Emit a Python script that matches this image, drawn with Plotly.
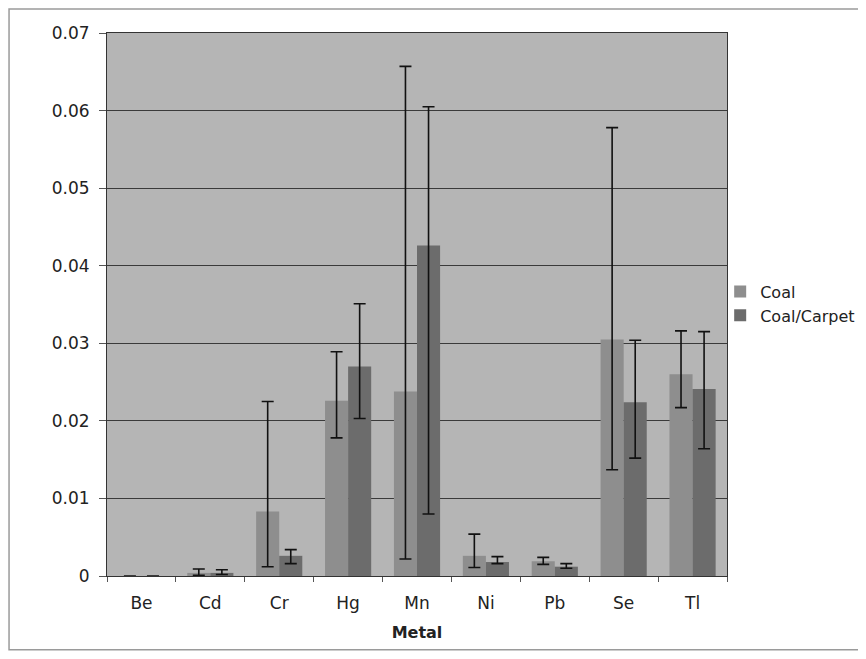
import plotly.graph_objects as go

metals = ["Be", "Cd", "Cr", "Hg", "Mn", "Ni", "Pb", "Se", "Tl"]
coal = [0.0, 0.0004, 0.0083, 0.0226, 0.0238, 0.0026, 0.0019, 0.0305, 0.0260]
coal_hi = [0.0, 0.0009, 0.0225, 0.0289, 0.0657, 0.0054, 0.0024, 0.0578, 0.0316]
coal_lo = [0.0, 0.0001, 0.0012, 0.0178, 0.0022, 0.0011, 0.0015, 0.0137, 0.0217]
carpet = [0.0, 0.0004, 0.0026, 0.0270, 0.0426, 0.0018, 0.0012, 0.0224, 0.0241]
carpet_hi = [0.0, 0.0008, 0.0034, 0.0351, 0.0605, 0.0025, 0.0016, 0.0304, 0.0315]
carpet_lo = [0.0, 0.0002, 0.0016, 0.0203, 0.0080, 0.0016, 0.0010, 0.0152, 0.0164]

def err(v, hi, lo):
    return dict(type="data", symmetric=False,
                array=[h - x for x, h in zip(v, hi)],
                arrayminus=[x - l for x, l in zip(v, lo)],
                color="#111111", thickness=1.6, width=6, visible=True)

fig = go.Figure()
fig.add_trace(go.Bar(x=metals, y=coal, name="Coal", marker_color="#8e8e8e",
                     marker_line_width=0, error_y=err(coal, coal_hi, coal_lo)))
fig.add_trace(go.Bar(x=metals, y=carpet, name="Coal/Carpet", marker_color="#6c6c6c",
                     marker_line_width=0, error_y=err(carpet, carpet_hi, carpet_lo)))

font = "DejaVu Sans, Verdana, sans-serif"
fig.update_layout(
    width=850, height=643,
    margin=dict(l=99, r=131, t=25, b=75, autoexpand=False),
    paper_bgcolor="white", plot_bgcolor="#b5b5b5",
    barmode="group", bargap=0.33, bargroupgap=0,
    font=dict(family=font, size=17, color="#222222"),
    legend=dict(x=0.989, y=0.555, xanchor="left", yanchor="top",
                font=dict(size=16), bgcolor="rgba(0,0,0,0)",
                itemwidth=30, tracegroupgap=0),
    xaxis=dict(title=dict(text="<b>Metal</b>", font=dict(size=16), standoff=14),
               showline=True, linecolor="#333333", linewidth=1, mirror=True,
               ticks="outside", ticklen=5, tickcolor="#555555",
               ticklabelstandoff=12,
               showgrid=False, tickson="boundaries"),
    yaxis=dict(range=[0, 0.07], dtick=0.01, tickformat="~g",
               showline=True, linecolor="#333333", linewidth=1, mirror=True,
               ticks="outside", ticklen=7, tickcolor="#555555",
               ticklabelstandoff=6,
               showgrid=True, gridcolor="#3a3a3a", gridwidth=1,
               zeroline=False),
    showlegend=True,
)
fig.add_shape(type="rect", xref="paper", yref="paper",
              x0=-0.158, x1=1.4, y0=-0.136, y1=1.044,
              line=dict(color="#9a9a9a", width=1.5), layer="below")
fig.write_html("out.html")
